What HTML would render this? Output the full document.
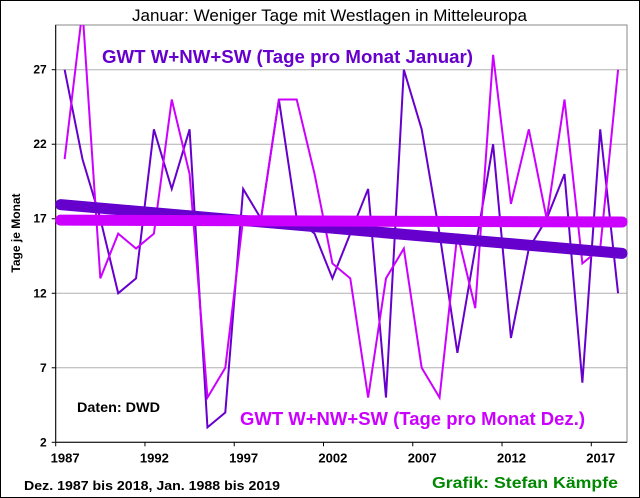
<!DOCTYPE html>
<html><head><meta charset="utf-8"><style>
html,body{margin:0;padding:0;background:#fff}
svg{display:block}
text{font-family:"Liberation Sans",sans-serif}
</style></head><body>
<svg id="chart" width="640" height="498" viewBox="0 0 640 498">
<rect x="0.5" y="0.5" width="639" height="497" fill="#fff" stroke="#000"/>
<text x="132" y="21" textLength="395" lengthAdjust="spacingAndGlyphs" font-size="17">Januar: Weniger Tage mit Westlagen in Mitteleuropa</text>
<g id="grid"></g>
<g id="axes"></g>
<g id="series"></g>
<text transform="translate(20,233) rotate(-90)" text-anchor="middle" font-size="12" font-weight="bold">Tage je Monat</text>
<text x="102" y="63" textLength="371" lengthAdjust="spacingAndGlyphs" font-size="18" font-weight="bold" fill="#6600cc">GWT W+NW+SW (Tage pro Monat Januar)</text>
<text x="240" y="425" textLength="345" lengthAdjust="spacingAndGlyphs" font-size="18" font-weight="bold" fill="#cc00ff">GWT W+NW+SW (Tage pro Monat Dez.)</text>
<text x="77" y="412" textLength="83" lengthAdjust="spacingAndGlyphs" font-size="14" font-weight="bold">Daten: DWD</text>
<text x="24" y="490" textLength="256" lengthAdjust="spacingAndGlyphs" font-size="13" font-weight="bold">Dez. 1987 bis 2018, Jan. 1988 bis 2019</text>
<text x="432" y="488" textLength="186" lengthAdjust="spacingAndGlyphs" font-size="16" font-weight="bold" fill="#008800">Grafik: Stefan Kämpfe</text>
</svg>
<script>
const categories = [1987,1988,1989,1990,1991,1992,1993,1994,1995,1996,1997,1998,1999,2000,2001,2002,2003,2004,2005,2006,2007,2008,2009,2010,2011,2012,2013,2014,2015,2016,2017,2018];
const januarValues = [27,21,17,12,13,23,19,23,3,4,19,17,25,17,16,13,16,19,5,27,23,16,8,15,22,9,15,17,20,6,23,12];
const dezemberValues = [21,31,13,16,15,16,25,20,5,7,17,17,25,25,20,14,13,5,13,15,7,5,16,11,28,18,23,17,25,14,15,27];
const yTicks = [2,7,12,17,22,27];
const xTickLabels = [1987,1992,1997,2002,2007,2012,2017];

const L=55.7,R=627,T=25,B=442.3,yMin=2,yMax=30;
const n=categories.length, bw=(R-L)/n;
const xs=i=>L+bw*(i+0.5);
const ys=v=>B-(v-yMin)/(yMax-yMin)*(B-T);
const NS='http://www.w3.org/2000/svg';
function mk(tag,attrs,parent){const e=document.createElementNS(NS,tag);for(const k in attrs)e.setAttribute(k,attrs[k]);parent.appendChild(e);return e;}
const grid=document.getElementById('grid'),axes=document.getElementById('axes'),series=document.getElementById('series');
const defs=mk('defs',{},document.getElementById('chart'));
const cp=mk('clipPath',{id:'plotclip'},defs);mk('rect',{x:L,y:T,width:R-L,height:B-T},cp);
series.setAttribute('clip-path','url(#plotclip)');
yTicks.forEach(v=>{
  if(v>yMin){const g=mk('line',{x1:L,x2:R,y1:ys(v),y2:ys(v),stroke:'#b0b0b0','stroke-width':1},grid);
  
  }
  mk('line',{x1:L-4,x2:L,y1:ys(v),y2:ys(v),stroke:'#000'},axes);
  const t=mk('text',{x:L-9,y:ys(v)+4,'text-anchor':'end','font-size':12,'font-weight':'bold'},axes);
  t.textContent=v;
  
  
});
mk('rect',{x:L,y:T,width:R-L,height:B-T,fill:'none',stroke:'#888'},axes);
mk('line',{x1:L,x2:L,y1:T,y2:B,stroke:'#000'},axes);
mk('line',{x1:L,x2:R,y1:B,y2:B,stroke:'#000'},axes);
xTickLabels.forEach(y=>{
  const i=categories.indexOf(y);
  const tx=L+bw*i;
  mk('line',{x1:tx,x2:tx,y1:B,y2:B+4,stroke:'#000'},axes);
  const t=mk('text',{x:xs(i)-14,y:B+20,textLength:29,lengthAdjust:'spacingAndGlyphs','font-size':13,'font-weight':'bold'},axes);
  t.textContent=y;
  
  
});
function trend(vals){let sx=0,sy=0,sxy=0,sxx=0;vals.forEach((v,i)=>{sx+=i;sy+=v;sxy+=i*v;sxx+=i*i;});const m=(n*sxy-sx*sy)/(n*sxx-sx*sx);return [sy/n-m*sx/n,m];}
function drawLine(vals,color,name){
  const p=mk('polyline',{points:vals.map((v,i)=>xs(i)+','+ys(v)).join(' '),fill:'none',stroke:color,'stroke-width':2,'stroke-linejoin':'miter'},series);
  
  
}
function drawTrend(vals,color,name){
  const [b,m]=trend(vals);
  const tl=mk('line',{x1:xs(0)-4,y1:ys(b-m*0.2),x2:xs(n-1)+4,y2:ys(b+m*(n-0.8)),stroke:color,'stroke-width':11,'stroke-linecap':'round'},document.getElementById('chart'));
  
  
}
drawLine(januarValues,'#6600cc','januar-line');
drawLine(dezemberValues,'#cc00ff','dezember-line');
drawTrend(januarValues,'#6600cc','januar-trend-line');
drawTrend(dezemberValues,'#cc00ff','dezember-trend-line');
</script>
</body></html>
